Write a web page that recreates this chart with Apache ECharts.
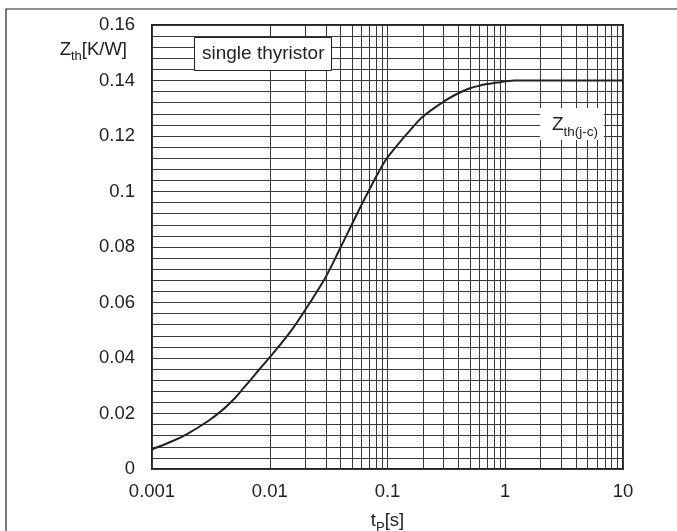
<!DOCTYPE html>
<html>
<head>
<meta charset="utf-8">
<script src="https://cdn.jsdelivr.net/npm/echarts@6/dist/echarts.min.js"></script>
<style>
  html, body { margin: 0; padding: 0; background: #fff; }
  #chart { width: 677px; height: 531px; }
</style>
</head>
<body>
<div id="chart"></div>
<script>
// Transient thermal impedance, junction to case, single thyristor
const pulseTimes = [0.001, 0.0015, 0.002, 0.003, 0.004, 0.005, 0.006, 0.007, 0.008, 0.009,
  0.01, 0.015, 0.02, 0.03, 0.04, 0.05, 0.06, 0.07, 0.08, 0.09,
  0.1, 0.15, 0.2, 0.3, 0.4, 0.5, 0.6, 0.7, 0.8, 0.9, 1, 1.2, 2, 5, 10];
const zthValues = [0.0071, 0.0101, 0.0127, 0.0173, 0.0214, 0.0253, 0.0292, 0.0325, 0.0355, 0.0380,
  0.0402, 0.0495, 0.0573, 0.0693, 0.0799, 0.0883, 0.0951, 0.1006, 0.1053, 0.1092,
  0.1123, 0.1213, 0.1270, 0.1324, 0.1354, 0.1372, 0.1381, 0.1387, 0.1391, 0.1394, 0.1397, 0.1400, 0.1400, 0.1400, 0.1400];

// decade tick labels and the log sub-divisions drawn as extra grid lines
const xTickLabels = ['0.001', '0.01', '0.1', '1', '10'];
const decades = [0.001, 0.01, 0.1, 1];
const subMultipliers = [2, 3, 4, 5, 6, 7, 8, 9];

const FONT = '"Liberation Sans", Arial, sans-serif';
const INK = '#222';
const GRID = '#3a3a3a';

const minorX = [];
decades.forEach(d => subMultipliers.forEach(m => minorX.push({ xAxis: +(d * m).toPrecision(3) })));

const chart = echarts.init(document.getElementById('chart'), null, { renderer: 'canvas' });

chart.setOption({
  animation: false,
  backgroundColor: '#fff',
  textStyle: { fontFamily: FONT, color: INK },
  title: {
    text: 'single thyristor',
    left: 194,
    top: 37,
    padding: [6, 7, 6, 8],
    borderColor: INK,
    borderWidth: 1,
    backgroundColor: '#fff',
    z: 20,
    textStyle: { fontFamily: FONT, fontSize: 19, fontWeight: 'normal', color: INK, lineHeight: 22 }
  },
  grid: {
    left: 152, right: 54, top: 25, bottom: 62,
    outerBoundsMode: 'none',
    containLabel: false,
    show: true, borderColor: INK, borderWidth: 2, backgroundColor: 'transparent'
  },
  xAxis: {
    type: 'log',
    logBase: 10,
    min: 0.001,
    max: 10,
    name: '{t|t}{s|P}{t|[s]}',
    nameLocation: 'middle',
    nameGap: 42,
    nameTextStyle: {
      rich: {
        t: { fontFamily: FONT, fontSize: 18.5, color: INK, lineHeight: 20, verticalAlign: 'top' },
        s: { fontFamily: FONT, fontSize: 13, color: INK, lineHeight: 14, padding: [10, 0, 0, 0], verticalAlign: 'top' }
      }
    },
    axisLine: { show: false },
    axisTick: { show: false },
    axisLabel: {
      margin: 13,
      fontFamily: FONT,
      fontSize: 18.5,
      color: INK,
      formatter: v => {
        const i = Math.round(Math.log10(v)) + 3;
        return xTickLabels[i] !== undefined ? xTickLabels[i] : '';
      }
    },
    splitLine: { show: true, lineStyle: { color: GRID, width: 1 } }
  },
  yAxis: {
    type: 'value',
    min: 0,
    max: 0.16,
    interval: 0.02,
    axisLine: { show: false },
    axisTick: { show: false },
    axisLabel: { margin: 17, fontFamily: FONT, fontSize: 18.5, color: INK },
    splitLine: { show: true, lineStyle: { color: GRID, width: 1 } },
    minorTick: { show: false, splitNumber: 5 },
    minorSplitLine: { show: true, lineStyle: { color: GRID, width: 1 } }
  },
  series: [{
    type: 'line',
    name: 'Zth(j-c)',
    data: pulseTimes.map((t, i) => [t, zthValues[i]]),
    showSymbol: false,
    smooth: 0.3,
    clip: false,
    z: 5,
    lineStyle: { color: INK, width: 2 },
    markLine: {
      silent: true,
      symbol: 'none',
      label: { show: false },
      lineStyle: { color: GRID, width: 1, type: 'solid' },
      emphasis: { disabled: true },
      z: 1,
      data: minorX
    }
  }],
  graphic: [
    {
      type: 'rect',
      left: 3.5, top: 6.5,
      shape: { width: 720, height: 600 },
      style: { fill: 'none', stroke: INK, lineWidth: 1.2 },
      silent: true
    },
    {
      type: 'text',
      right: 677 - 127,
      top: 40,
      style: {
        text: '{z|Z}{s|th}{z|[K/W]}',
        rich: {
          z: { fontFamily: FONT, fontSize: 18.5, fill: INK, lineHeight: 20, verticalAlign: 'top' },
          s: { fontFamily: FONT, fontSize: 13, fill: INK, lineHeight: 14, padding: [10, 0, 0, 0], verticalAlign: 'top' }
        }
      },
      silent: true
    },
    {
      type: 'rect',
      left: 540, top: 108,
      shape: { width: 64, height: 32 },
      style: { fill: '#fff' },
      silent: true,
      z: 100
    },
    {
      type: 'text',
      left: 552, top: 115,
      z: 101,
      style: {
        text: '{z|Z}{s|th(j-c)}',
        rich: {
          z: { fontFamily: FONT, fontSize: 19, fill: INK, lineHeight: 20, verticalAlign: 'top' },
          s: { fontFamily: FONT, fontSize: 13.5, fill: INK, lineHeight: 14, padding: [10, 0, 0, 0], verticalAlign: 'top' }
        }
      },
      silent: true
    }
  ]
});
</script>
</body>
</html>
